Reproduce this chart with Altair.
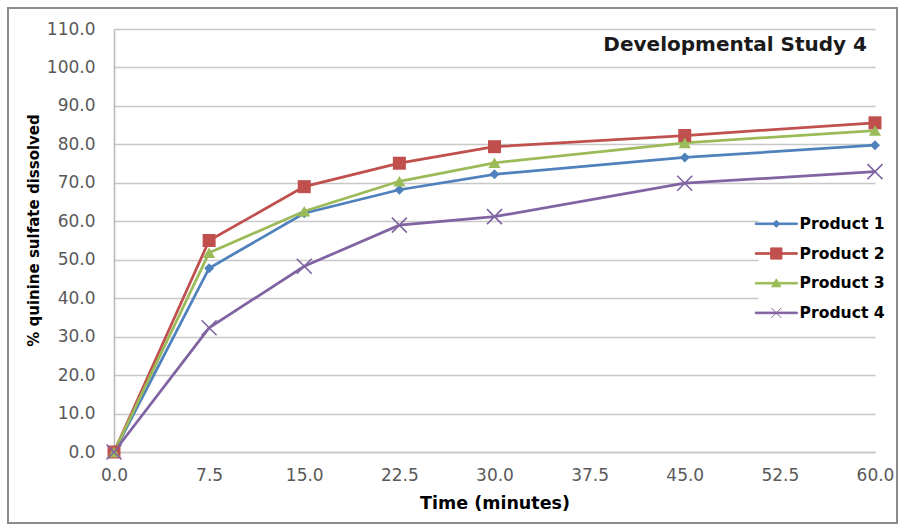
import altair as alt
import pandas as pd

# Dissolution profiles (% dissolved at each sampling time)
times = [0.0, 7.5, 15.0, 22.5, 30.0, 45.0, 60.0]
products = ["Product 1", "Product 2", "Product 3", "Product 4"]
product_1 = [0.0, 47.8, 62.1, 68.2, 72.2, 76.6, 79.8]
product_2 = [0.0, 55.0, 69.0, 75.1, 79.4, 82.3, 85.6]
product_3 = [0.0, 51.8, 62.6, 70.4, 75.2, 80.4, 83.6]
product_4 = [0.0, 32.3, 48.3, 59.0, 61.2, 69.9, 72.9]

colors = ["#4F81BD", "#C0504D", "#9BBB59", "#8064A2"]
x_ticks = [0.0, 7.5, 15.0, 22.5, 30.0, 37.5, 45.0, 52.5, 60.0]
y_ticks = [0, 10, 20, 30, 40, 50, 60, 70, 80, 90, 100, 110]
chart_title = "Developmental Study 4"

series = [product_1, product_2, product_3, product_4]
rows = []
for name, values in zip(products, series):
    for t, v in zip(times, values):
        rows.append({"Time": t, "Dissolved": v, "Product": name})
df = pd.DataFrame(rows)

W, H = 761, 423
TICK_FONT = "DejaVu Sans"
GRID = "#c8c8c8"

x_enc = alt.X(
    "Time:Q",
    scale=alt.Scale(domain=[0, 60], nice=False),
    axis=alt.Axis(
        values=x_ticks, format=".1f", title="Time (minutes)", grid=False,
        ticks=False, domain=True, domainColor=GRID, domainWidth=1.5,
        labelFont=TICK_FONT, labelFontSize=17, labelColor="#595959",
        labelPadding=15, labelFlush=False, labelOverlap=False,
        titleFont=TICK_FONT, titleFontSize=17.5, titleFontWeight="bold",
        titleColor="#000000", titleY=51, titleBaseline="middle",
    ),
)
y_enc = alt.Y(
    "Dissolved:Q",
    scale=alt.Scale(domain=[0, 110], nice=False),
    axis=alt.Axis(
        values=y_ticks, format=".1f", title="% quinine sulfate dissolved",
        grid=True, gridColor=GRID, gridWidth=1.5, ticks=False,
        domain=True, domainColor="#b8b8b8", domainWidth=1.5,
        labelFont=TICK_FONT, labelFontSize=17, labelColor="#595959",
        labelPadding=19, labelFlush=False, labelOverlap=False,
        titleFont=TICK_FONT, titleFontSize=15, titleFontWeight="bold",
        titleColor="#000000", titleX=-81, titleY=201,
        titleAlign="center", titleBaseline="middle", titleAngle=270,
    ),
)

# One line + marker layer per product, each in its own colour
marker_specs = [
    ("diamond", 100, True),
    ("square", 169, True),
    ("triangle-up", 150, True),
    ("M-1,-1L1,1M-1,1L1,-1", 225, False),
]
line_layers = []
marker_layers = []
for name, color, (shape, size, filled) in zip(products, colors, marker_specs):
    sub = alt.Chart(df).transform_filter(alt.datum.Product == name)
    line_layers.append(
        sub.mark_line(strokeWidth=2.75, color=color).encode(
            x=x_enc, y=y_enc, order=alt.Order("Time:Q")
        )
    )
    mk = dict(shape=shape, size=size, filled=filled, opacity=1, color=color)
    if not filled:
        mk["strokeWidth"] = 1.6
    marker_layers.append(sub.mark_point(**mk).encode(x=x_enc, y=y_enc))

# Legend symbols: a short line segment with the series marker on it
legend_shapes = [
    "M-5.25,-0.2L5.25,-0.2L5.25,0.2L-5.25,0.2Z M0,-0.9L0.9,0L0,0.9L-0.9,0Z",
    "M-5.25,-0.2L5.25,-0.2L5.25,0.2L-5.25,0.2Z M-1.4,-1.4L1.4,-1.4L1.4,1.4L-1.4,1.4Z",
    "M-5.25,-0.2L5.25,-0.2L5.25,0.2L-5.25,0.2Z M0,-1.1L1.15,0.9L-1.15,0.9Z",
    "M-5.25,-0.2L5.25,-0.2L5.25,0.2L-5.25,0.2Z M-1.25,-1.25L1.25,1.25M-1.25,1.25L1.25,-1.25",
]
legend_def = alt.Legend(
    orient="none", legendX=644.5, legendY=177, title=None,
    labelFont=TICK_FONT, labelFontWeight="bold", labelFontSize=15.6,
    labelColor="#000000", symbolSize=64, symbolStrokeWidth=1,
    labelOffset=15.5, rowPadding=12.7, padding=10, fillColor="white",
)
legend_layer = alt.Chart(df).mark_point(
    filled=True, opacity=0
).encode(
    x=x_enc, y=y_enc,
    color=alt.Color("Product:N", scale=alt.Scale(domain=products, range=colors), legend=legend_def),
    stroke=alt.Stroke("Product:N", scale=alt.Scale(domain=products, range=colors), legend=legend_def),
    shape=alt.Shape("Product:N", scale=alt.Scale(domain=products, range=legend_shapes), legend=legend_def),
)

title_layer = alt.Chart(pd.DataFrame({"label": [chart_title]})).mark_text(
    align="right", baseline="middle", font=TICK_FONT, fontSize=20,
    fontWeight="bold", color="#1a1a1a",
).encode(x=alt.value(753), y=alt.value(16), text="label:N")

frame = alt.Chart(pd.DataFrame({"f": [0]})).mark_rect(
    fill=None, stroke="#8c8c8c", strokeWidth=2
).encode(
    x=alt.value(-106), x2=alt.value(783), y=alt.value(-21), y2=alt.value(494)
)

chart = alt.layer(
    frame, legend_layer, *line_layers, *marker_layers, title_layer
).properties(
    width=W, height=H,
    autosize=alt.AutoSizeParams(type="none"),
    padding={"left": 114, "top": 29, "right": 26, "bottom": 74},
    background="white",
).configure_view(stroke=None).configure_legend(symbolOpacity=1)

chart.save("out.html", embed_options={"renderer": "svg", "actions": False})
